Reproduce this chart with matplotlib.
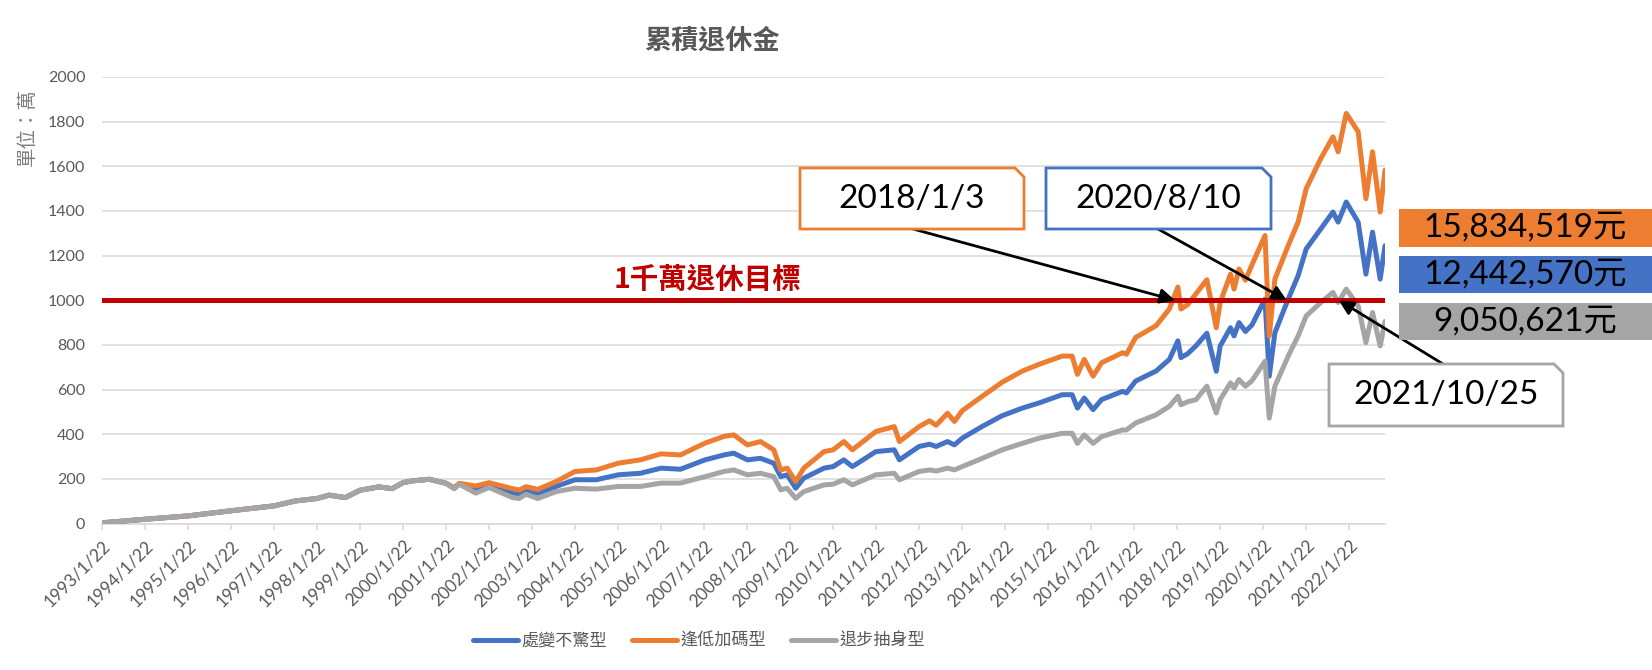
import pandas as pd
import matplotlib.pyplot as plt
import matplotlib.transforms as mtransforms
from matplotlib.patches import Polygon, Rectangle

plt.rcParams['font.family'] = ['Lato', 'Noto Sans CJK TC', 'DejaVu Sans']

W, H = 1652, 670

# ---- data (values in 萬) ----
dates = [
    "1993-01-22", "1994-01-22", "1995-01-22", "1996-01-22", "1997-01-22", "1997-07-22",
    "1998-01-22", "1998-05-05", "1998-09-20", "1999-01-22", "1999-07-01", "1999-10-22",
    "2000-01-22", "2000-04-12", "2000-09-01", "2001-01-22", "2001-04-01", "2001-05-15",
    "2001-10-01", "2002-01-22", "2002-08-10", "2002-10-05", "2002-12-01", "2003-03-12",
    "2003-08-15", "2004-01-22", "2004-07-22", "2005-01-22", "2005-07-30", "2006-01-22",
    "2006-07-05", "2007-01-30", "2007-07-10", "2007-10-01", "2008-01-25", "2008-05-15",
    "2008-09-05", "2008-11-03", "2008-12-28", "2009-03-10", "2009-05-18", "2009-11-06",
    "2010-01-22", "2010-04-23", "2010-07-05", "2011-01-20", "2011-06-25", "2011-08-08",
    "2012-01-22", "2012-04-20", "2012-06-15", "2012-09-20", "2012-11-17", "2013-01-22",
    "2013-07-12", "2013-12-28", "2014-06-18", "2014-11-06", "2015-05-22", "2015-08-14",
    "2015-09-28", "2015-11-25", "2016-02-08", "2016-04-20", "2016-10-15", "2016-11-17",
    "2017-02-03", "2017-07-27", "2017-11-17", "2018-01-28", "2018-02-23", "2018-04-20",
    "2018-07-01", "2018-10-01", "2018-12-20", "2019-01-22", "2019-04-20", "2019-05-20",
    "2019-07-01", "2019-08-25", "2019-10-20", "2020-02-07", "2020-03-14", "2020-05-01",
    "2020-08-22", "2020-11-14", "2021-01-22", "2021-05-26", "2021-09-06", "2021-10-20",
    "2021-12-28", "2022-04-08", "2022-06-13", "2022-08-08", "2022-10-12", "2022-11-22",
]

steady = [  # 處變不驚型
    3, 19, 34, 57, 79, 101,
    112, 127, 116, 149, 164, 156,
    183, 191, 198, 180, 158, 178,
    150, 172, 138, 132, 150, 135,
    166, 196, 196, 218, 225, 248,
    243, 285, 307, 315, 285, 292,
    270, 210, 218, 158, 203, 248,
    255, 285, 255, 322, 330, 285,
    345, 355, 345, 367, 352, 382,
    435, 483, 517, 540, 577, 577,
    517, 562, 510, 555, 592, 585,
    638, 683, 735, 818, 743, 760,
    796, 852, 682, 795, 877, 840,
    900, 860, 890, 1005, 660, 855,
    1005, 1110, 1230, 1320, 1395, 1350,
    1440, 1350, 1117, 1305, 1095, 1244,
]

buy_dip = [  # 逢低加碼型
    3, 19, 34, 57, 79, 101,
    112, 127, 116, 149, 164, 156,
    183, 191, 198, 180, 160, 180,
    168, 183, 156, 150, 165, 153,
    188, 233, 240, 270, 285, 312,
    307, 360, 390, 397, 352, 367,
    330, 240, 248, 188, 248, 322,
    330, 367, 330, 412, 434, 367,
    434, 460, 440, 494, 457, 505,
    570, 633, 683, 713, 750, 750,
    668, 735, 660, 720, 765, 758,
    833, 886, 961, 1059, 961, 980,
    1029, 1092, 877, 990, 1117, 1050,
    1140, 1090, 1160, 1290, 840, 1095,
    1245, 1350, 1500, 1635, 1732, 1665,
    1837, 1755, 1455, 1665, 1395, 1583,
]

retreat = [  # 退步抽身型
    3, 19, 34, 57, 79, 101,
    112, 127, 116, 149, 164, 156,
    183, 191, 198, 180, 156, 176,
    136, 161, 116, 112, 131, 112,
    143, 158, 154, 166, 166, 181,
    181, 210, 233, 240, 218, 225,
    210, 151, 158, 113, 143, 173,
    176, 196, 173, 218, 225, 196,
    233, 240, 235, 248, 240, 255,
    292, 330, 359, 382, 404, 404,
    359, 397, 359, 389, 419, 419,
    450, 487, 525, 570, 532, 545,
    555, 615, 495, 555, 630, 607,
    645, 615, 640, 727, 472, 615,
    750, 840, 930, 990, 1035, 990,
    1050, 975, 810, 945, 795, 905,
]

series_names = ["處變不驚型", "逢低加碼型", "退步抽身型"]
series_colors = ["#4472C4", "#ED7D31", "#A5A5A5"]

final_labels = ["15,834,519元", "12,442,570元", "9,050,621元"]
final_colors = ["#ED7D31", "#4472C4", "#A5A5A5"]

goal = 1000
goal_label = "1千萬退休目標"
event_dates = ["2018-01-03", "2020-08-10", "2021-10-25"]
event_labels = ["2018/1/3", "2020/8/10", "2021/10/25"]
event_colors = ["#ED7D31", "#4472C4", "#A5A5A5"]

tick_years = list(range(1993, 2023))
tick_labels = [f"{y}/1/22" for y in tick_years]


def fx(px):
    return px / W


def fy(py):
    return 1 - py / H


x = pd.to_datetime(dates)

fig = plt.figure(figsize=(W / 100, H / 100), dpi=100)
ax = fig.add_axes([fx(102), fy(523.5), fx(1385) - fx(102), fy(77) - fy(523.5)])

for vals, name, col in zip([steady, buy_dip, retreat], series_names, series_colors):
    ax.plot(x, vals, color=col, lw=3.6, label=name, solid_capstyle="round", zorder=3)

ax.axhline(goal, color="#C00000", lw=3.6, zorder=4)

ax.set_xlim(x[0], x[-1])
ax.set_ylim(0, 2000)
ax.set_yticks(range(0, 2001, 200))
ax.grid(axis="y", color="#D9D9D9", lw=1.1)
ax.set_axisbelow(True)
for side in ["top", "right", "left"]:
    ax.spines[side].set_visible(False)
ax.spines["bottom"].set_color("#D9D9D9")
ax.spines["bottom"].set_linewidth(1.1)

ax.set_xticks(pd.to_datetime([f"{y}-01-22" for y in tick_years]))
ax.set_xticklabels(tick_labels, rotation=45, ha="right", va="center", rotation_mode="anchor")
ax.tick_params(axis="x", colors="#D9D9D9", length=4, width=1.1, pad=10, labelsize=12.5,
               labelcolor="#595959")
ax.tick_params(axis="y", length=0, pad=12, labelsize=11.5, labelcolor="#595959")
shift = mtransforms.ScaledTranslation(6 / 100, 0, fig.dpi_scale_trans)
for lab in ax.get_xticklabels():
    lab.set_transform(lab.get_transform() + shift)

# title, axis unit, goal label
fig.text(fx(712), fy(41), "累積退休金", ha="center", va="center", fontsize=19.5,
         fontweight="bold", color="#595959", family=["Noto Sans CJK TC"])
fig.text(fx(27), fy(127), "單位：萬", rotation=90, ha="center", va="center",
         fontsize=14, color="#7F7F7F", family=["Noto Sans CJK TC"])
fig.text(fx(707), fy(280), goal_label, ha="center", va="center", fontsize=20.5,
         fontweight="bold", color="#C00000", family=["Noto Sans CJK TC"])

# legend
handles, labels = ax.get_legend_handles_labels()
leg = fig.legend(handles, labels, loc="center", bbox_to_anchor=(fx(699), fy(641)), ncol=3,
                 frameon=False, handlelength=2.6, handletextpad=0.2, columnspacing=1.5,
                 prop={"family": ["Noto Sans CJK TC"], "size": 12.3})
for t in leg.get_texts():
    t.set_color("#595959")


# annotation boxes with snipped top-right corner
def snip_box(x0, y0, x1, y1, color, cut=9):
    pts = [(x0, y0), (x1 - cut, y0), (x1, y0 + cut), (x1, y1), (x0, y1)]
    pts = [(fx(a), fy(b)) for a, b in pts]
    fig.add_artist(Polygon(pts, closed=True, transform=fig.transFigure, facecolor="white",
                           edgecolor=color, lw=2, zorder=6))


boxes = [(800, 168, 1024, 229), (1046, 168, 1271, 229), (1329, 364, 1563, 426)]
starts = [(913, 229), (1158, 229), (1443, 364)]
for (x0, y0, x1, y1), (sx, sy), d, lab, col in zip(boxes, starts, event_dates, event_labels,
                                                    event_colors):
    ax.annotate("", xy=(pd.Timestamp(d), goal), xycoords="data",
                xytext=(sx, H - sy), textcoords="figure pixels", annotation_clip=False,
                arrowprops=dict(arrowstyle="-|>", color="black", lw=2, mutation_scale=22,
                                shrinkA=0, shrinkB=0), zorder=5)
    snip_box(x0, y0, x1, y1, col)
    fig.text(fx((x0 + x1) / 2), fy((y0 + y1) / 2), lab, ha="center", va="center",
             fontsize=24, color="black", zorder=7)

# final value boxes on the right
value_boxes = [(209, 247), (256, 293), (303, 340)]
for (y0, y1), lab, col in zip(value_boxes, final_labels, final_colors):
    fig.add_artist(Rectangle((fx(1399), fy(y1)), fx(W) - fx(1399), fy(y0) - fy(y1),
                             transform=fig.transFigure, facecolor=col, edgecolor="none",
                             zorder=6))
    fig.text(fx(1525), fy((y0 + y1) / 2), lab, ha="center", va="center", fontsize=24,
             color="black", zorder=7)

fig.savefig("out.png", dpi=100)
